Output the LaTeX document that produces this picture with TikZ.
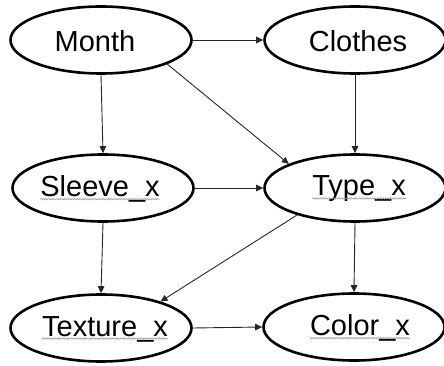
\documentclass[tikz,border=0pt]{standalone}
\usepackage{fontspec}
\setmainfont{Liberation Sans}
\usetikzlibrary{shapes.geometric,arrows.meta,decorations.pathmorphing}
\begin{document}
\begin{tikzpicture}[x=1pt,y=-1pt,
  ell/.style={ellipse,draw=black,line width=2.6pt,minimum width=181pt,minimum height=67pt,inner sep=0pt},
  txt/.style={inner sep=0pt,font=\fontsize{29}{34}\selectfont},
  arr/.style={draw=black!85,line width=0.9pt,-{Triangle[length=7pt,width=6.5pt]}},
  squig/.style={draw=black!40,line width=0.6pt,decorate,decoration={snake,amplitude=0.7pt,segment length=2.6pt}}]
\useasboundingbox (0,0) rectangle (444,366);
\node[ell] (M) at (101,40) {};
\node[ell] (C) at (355,40) {};
\node[ell] (S) at (103,188) {};
\node[ell] (T) at (355,188) {};
\node[ell] (X) at (101,328) {};
\node[ell] (K) at (354,327) {};
\node[txt] (Mt) at (95,41) {Month};
\node[txt] (Ct) at (358,41) {Clothes};
\node[txt] (St) at (100,189) {Sleeve\_x};
\node[txt] (Tt) at (359,189) {Type\_x};
\node[txt] (Xt) at (105,329) {Texture\_x};
\node[txt] (Kt) at (360,328) {Color\_x};
\foreach \n in {St,Tt,Xt,Kt}{
  \draw[squig] ([yshift=-2.5pt]\n.base west) -- ([yshift=-2.5pt]\n.base east);
}
\draw[arr] (M.east) -- (C.west);
\draw[arr] (M.south) -- (S.north);
\draw[arr] (M.-20.9) -- (T.160.1);
\draw[arr] (C.south) -- (T.north);
\draw[arr] (S.east) -- (T.west);
\draw[arr] (S.south) -- (X.north);
\draw[arr] (T.205.8) -- (X.24.2);
\draw[arr] (T.south) -- (K.north);
\draw[arr] (X.east) -- (K.west);
\end{tikzpicture}
\end{document}
